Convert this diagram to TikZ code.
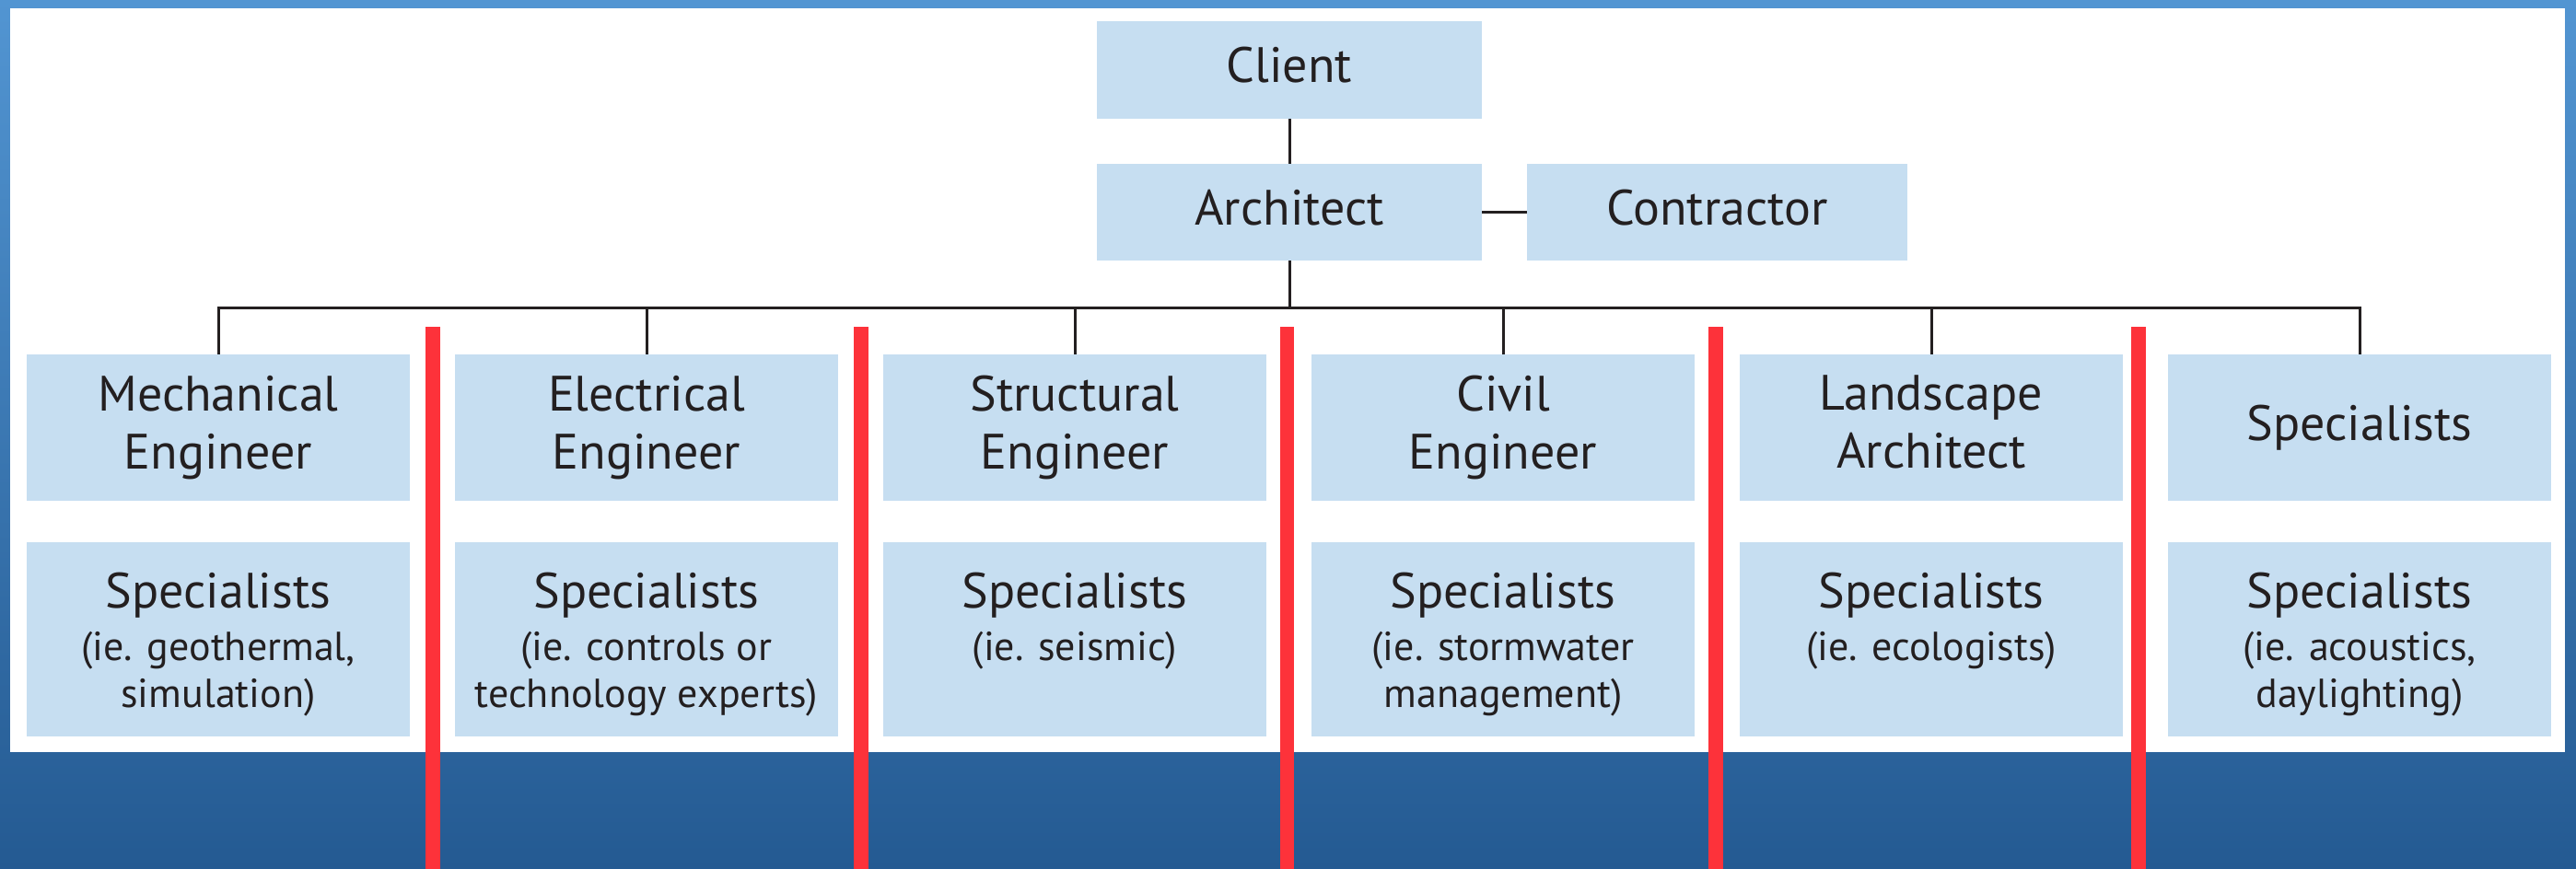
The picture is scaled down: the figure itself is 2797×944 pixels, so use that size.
\documentclass[tikz,border=0pt]{standalone}
\usepackage{fontspec}
\setmainfont{PT Sans}
\definecolor{topblue}{HTML}{5295D2}
\definecolor{botblue}{HTML}{245A92}
\definecolor{boxblue}{HTML}{C6DEF1}
\definecolor{barred}{HTML}{FD323A}
\definecolor{ink}{HTML}{231F20}
\newcommand{\bigf}{\fontsize{54}{63}\selectfont}
\newcommand{\smallf}{\fontsize{44}{51}\selectfont}
\newcommand{\dstrut}{\rule[-12pt]{0pt}{12pt}}
\tikzset{
  box/.style={rectangle, fill=boxblue, inner sep=0pt, text=ink, align=center, font=\bigf},
  topbox/.style={box, minimum width=416pt, minimum height=159pt},
  lowbox/.style={box, minimum width=416pt, minimum height=211pt},
  single/.style={text height=40pt, text depth=12pt},
  lowtext/.style={inner sep=0pt, text=ink, align=center, font=\smallf, anchor=north},
  conn/.style={draw=ink, line width=3pt},
  redbar/.style={fill=barred}
}
\begin{document}
\begin{tikzpicture}[x=1pt,y=-1pt]
\useasboundingbox (0,0) rectangle (2797,944);
% background frame
\shade[top color=topblue, bottom color=botblue] (0,0) rectangle (2797,944);
\fill[white] (11,9) rectangle (2785,817);
% top of chart
\node[box, single, minimum width=418pt, minimum height=106pt] (client) at (1400,76) {Client};
\node[box, single, minimum width=418pt, minimum height=105pt] (architect) at (1400,230.5) {Architect};
\node[box, single, minimum width=413pt, minimum height=105pt] (contractor) at (1864.5,230.5) {Contractor};
\coordinate (bus) at (1400,334);
% top row
\node[topbox] (mech) at (237,464.5) {Mechanical\\Engineer};
\node[topbox] (elec) at (702,464.5) {Electrical\\Engineer};
\node[topbox] (struct) at (1167,464.5) {Structural\\Engineer};
\node[topbox] (civil) at (1632,464.5) {Civil\\Engineer};
\node[topbox] (land) at (2097,464.5) {Landscape\\Architect\dstrut};
\node[topbox, single] (spec) at (2562,464.5) {Specialists};
% lower row boxes
\node[lowbox] (mechs) at (237,694.5) {};
\node[lowbox] (elecs) at (702,694.5) {};
\node[lowbox] (structs) at (1167,694.5) {};
\node[lowbox] (civils) at (1632,694.5) {};
\node[lowbox] (lands) at (2097,694.5) {};
\node[lowbox] (specs) at (2562,694.5) {};
% lower row texts
\node[lowtext] (mecht) at (237,615) {{\bigf\rule{0pt}{45pt}Specialists}\\[6pt](ie. geothermal,\\simulation)};
\node[lowtext] (elect) at (702,615) {{\bigf\rule{0pt}{45pt}Specialists}\\[6pt](ie. controls or\\technology experts)};
\node[lowtext] (structt) at (1167,615) {{\bigf\rule{0pt}{45pt}Specialists}\\[6pt](ie. seismic)};
\node[lowtext] (civilt) at (1632,615) {{\bigf\rule{0pt}{45pt}Specialists}\\[6pt](ie. stormwater\\management)};
\node[lowtext] (landt) at (2097,615) {{\bigf\rule{0pt}{45pt}Specialists}\\[6pt](ie. ecologists)};
\node[lowtext] (spect) at (2562,615) {{\bigf\rule{0pt}{45pt}Specialists}\\[6pt](ie. acoustics,\\daylighting)};
% connectors
\draw[conn] (client.south) -- (architect.north);
\draw[conn] (architect.east) -- (contractor.west);
\draw[conn] (architect.south) -- (bus);
\draw[conn] (mech.north) |- (bus);
\draw[conn] (elec.north) |- (bus);
\draw[conn] (struct.north) |- (bus);
\draw[conn] (civil.north) |- (bus);
\draw[conn] (land.north) |- (bus);
\draw[conn] (spec.north) |- (bus);
% red separator bars
\fill[redbar] (462,355) rectangle (478,944);
\fill[redbar] (927,355) rectangle (943,944);
\fill[redbar] (1390,355) rectangle (1405,944);
\fill[redbar] (1855,355) rectangle (1871,944);
\fill[redbar] (2314,355) rectangle (2330,944);
\end{tikzpicture}
\end{document}
